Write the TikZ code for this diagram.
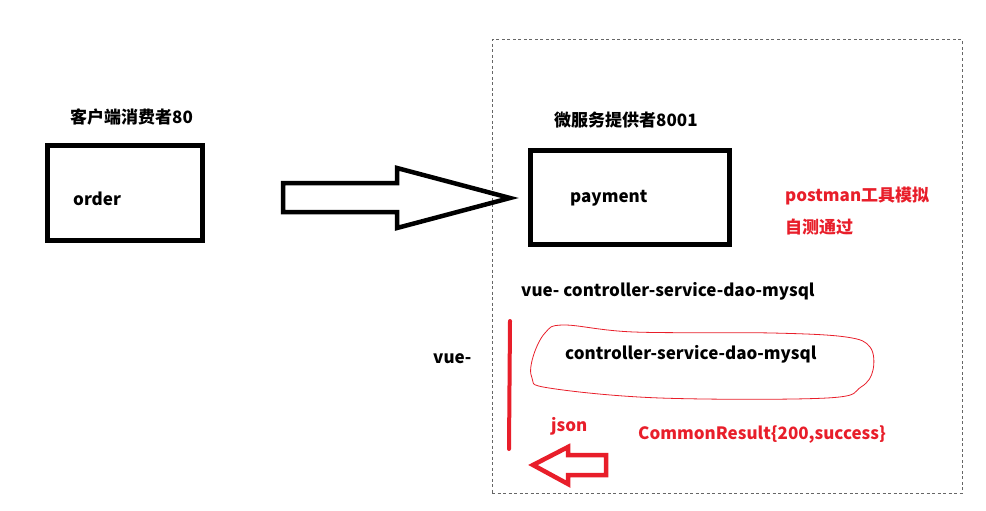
\documentclass[tikz,border=0pt]{standalone}
\usepackage{fontspec}
\setmainfont{Noto Sans CJK SC}
\definecolor{notered}{RGB}{232,30,42}
\begin{document}
\begin{tikzpicture}[
        x=1pt, y=-1pt,
        every node/.style={font=\fontsize{17}{20}\selectfont\bfseries, inner sep=0pt},
        svcbox/.style={draw, line width=5pt, minimum width=155pt, minimum height=95pt},
        label/.style={anchor=base west},
        note/.style={anchor=base west, text=notered},
        hollow/.style={draw, line width=4.5pt, line join=miter}
    ]
        \useasboundingbox (0,0) rectangle (986,511);

        % consumer side
        \node[svcbox] (order) at (125,193) {};
        \node[label] (orderlbl) at (73,205) {order};
        \node[label] (consumer) at (70,124) {客户端消费者80};

        % provider side
        \node[draw=black!60, dash pattern=on 3pt off 2.5pt, line width=1pt,
              minimum width=470pt, minimum height=453pt] (frame) at (727,266.5) {};
        \node[svcbox, minimum width=199pt, minimum height=94pt] (payment) at (630,197.5) {};
        \node[label] (paymentlbl) at (570,202) {payment};
        \node[label] (provider) at (554,127) {微服务提供者8001};
        \node[note] (postman) at (785,201) {postman工具模拟};
        \node[note] (selftest) at (785,233) {自测通过};
        \node[label] (chain) at (521,296) {vue- controller-service-dao-mysql};
        \node[label] (vue) at (433,363) {vue-};
        \node[label] (inner) at (565,359) {controller-service-dao-mysql};
        \node[note] (json) at (551,431) {json};
        \node[note] (result) at (638,439) {CommonResult\{200,success\}};

        % big hollow arrow
        \draw[hollow] (283,183) -- (397,183) -- (397,168) -- (510,198)
            -- (397,228) -- (397,212) -- (283,212) -- cycle;

        % red marks
        \draw[notered, line width=4pt, line cap=round] (510,321) -- (509,449);
        \draw[notered, line width=0.8pt] plot[smooth cycle, tension=0.6] coordinates {
            (564,325) (634,332) (772,333) (846,337) (870,347) (873,370)
            (861,387) (827,398) (660,398) (549,388) (532,378) (533,357) (545,333)};
        \draw[hollow, notered] (606,455) -- (568,455) -- (568,447) -- (533,465)
            -- (568,484) -- (568,475) -- (606,475) -- cycle;
    \end{tikzpicture}
\end{document}
